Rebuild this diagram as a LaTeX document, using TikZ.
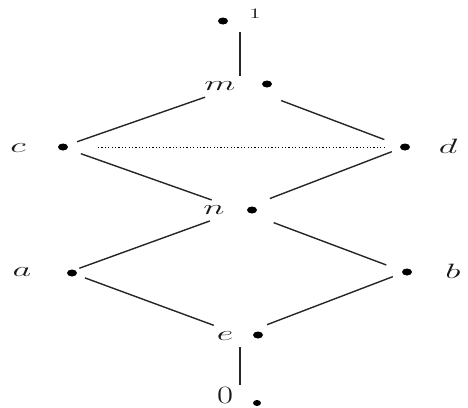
\documentclass[tikz,border=0pt]{standalone}
\usetikzlibrary{shapes.geometric}
\newcommand\vlabel[2][1.75]{\scalebox{#1}[1]{#2}}
\tikzset{
  edge/.style={line width=1.4pt, draw=black!85},
  vdot/.style={shape=ellipse, fill=black, inner sep=0pt, minimum width=10pt, minimum height=7pt},
  vlab/.style={inner sep=0pt, text=black!90, font=\fontsize{21.5}{22}\selectfont},
}
\begin{document}
\begin{tikzpicture}[x=1pt, y=-1pt]
  \useasboundingbox (0,0) rectangle (468,407);
  % lattice vertices
  \coordinate (v1) at (240,20);
  \coordinate (vm) at (240,85);
  \coordinate (vc) at (62,147);
  \coordinate (vd) at (404,147);
  \coordinate (vn) at (240,210);
  \coordinate (va) at (69,272);
  \coordinate (vb) at (405,272);
  \coordinate (ve) at (240,335);
  \coordinate (v0) at (240,398);
  % dots
  \node[vdot] (d1) at (223,21) {};
  \node[vdot] (dm) at (267,84) {};
  \node[vdot] (dc) at (63,147) {};
  \node[vdot] (dd) at (405,147) {};
  \node[vdot] (dn) at (252,210) {};
  \node[vdot] (da) at (72,273) {};
  \node[vdot] (db) at (407,272) {};
  \node[vdot] (de) at (258,335) {};
  \node[vdot, minimum width=8pt, minimum height=6pt] (d0) at (257,403) {};
  % labels
  \node[vlab, font=\fontsize{14}{14}\selectfont] (l1) at (255,14) {\vlabel[1.6]{$1$}};
  \node[vlab] (lm) at (220,86) {\vlabel{$m$}};
  \node[vlab] (lc) at (18,148) {\vlabel{$c$}};
  \node[vlab] (ld) at (448,146) {\vlabel{$d$}};
  \node[vlab] (ln) at (214,210) {\vlabel{$n$}};
  \node[vlab] (la) at (22,272) {\vlabel{$a$}};
  \node[vlab] (lb) at (453,271) {\vlabel{$b$}};
  \node[vlab] (le) at (225,336) {\vlabel{$e$}};
  \node[vlab, font=\fontsize{24}{24}\selectfont] (l0) at (225,395) {\vlabel[1.4]{$0$}};
  % covering relations
  \draw[edge, shorten <=12pt, shorten >=9pt] (v1) -- (vm);
  \draw[edge, shorten <=37pt, shorten >=16pt] (vm) -- (vc);
  \draw[edge, shorten <=44pt, shorten >=21pt] (vm) -- (vd);
  \draw[edge, shorten <=20pt, shorten >=30pt] (vc) -- (vn);
  \draw[edge, shorten <=13pt, shorten >=32pt] (vd) -- (vn);
  \draw[edge, shorten <=32pt, shorten >=11pt] (vn) -- (va);
  \draw[edge, shorten <=36pt, shorten >=20pt] (vn) -- (vb);
  \draw[edge, shorten <=17pt, shorten >=28pt] (va) -- (ve);
  \draw[edge, shorten <=13pt, shorten >=29pt] (vb) -- (ve);
  \draw[edge, shorten <=12pt, shorten >=13pt] (ve) -- (v0);
  % c and d
  \draw[line width=1pt, dash pattern=on 1.2pt off 2.2pt, shorten <=36pt, shorten >=19pt] (vc) -- (vd);
\end{tikzpicture}
\end{document}
